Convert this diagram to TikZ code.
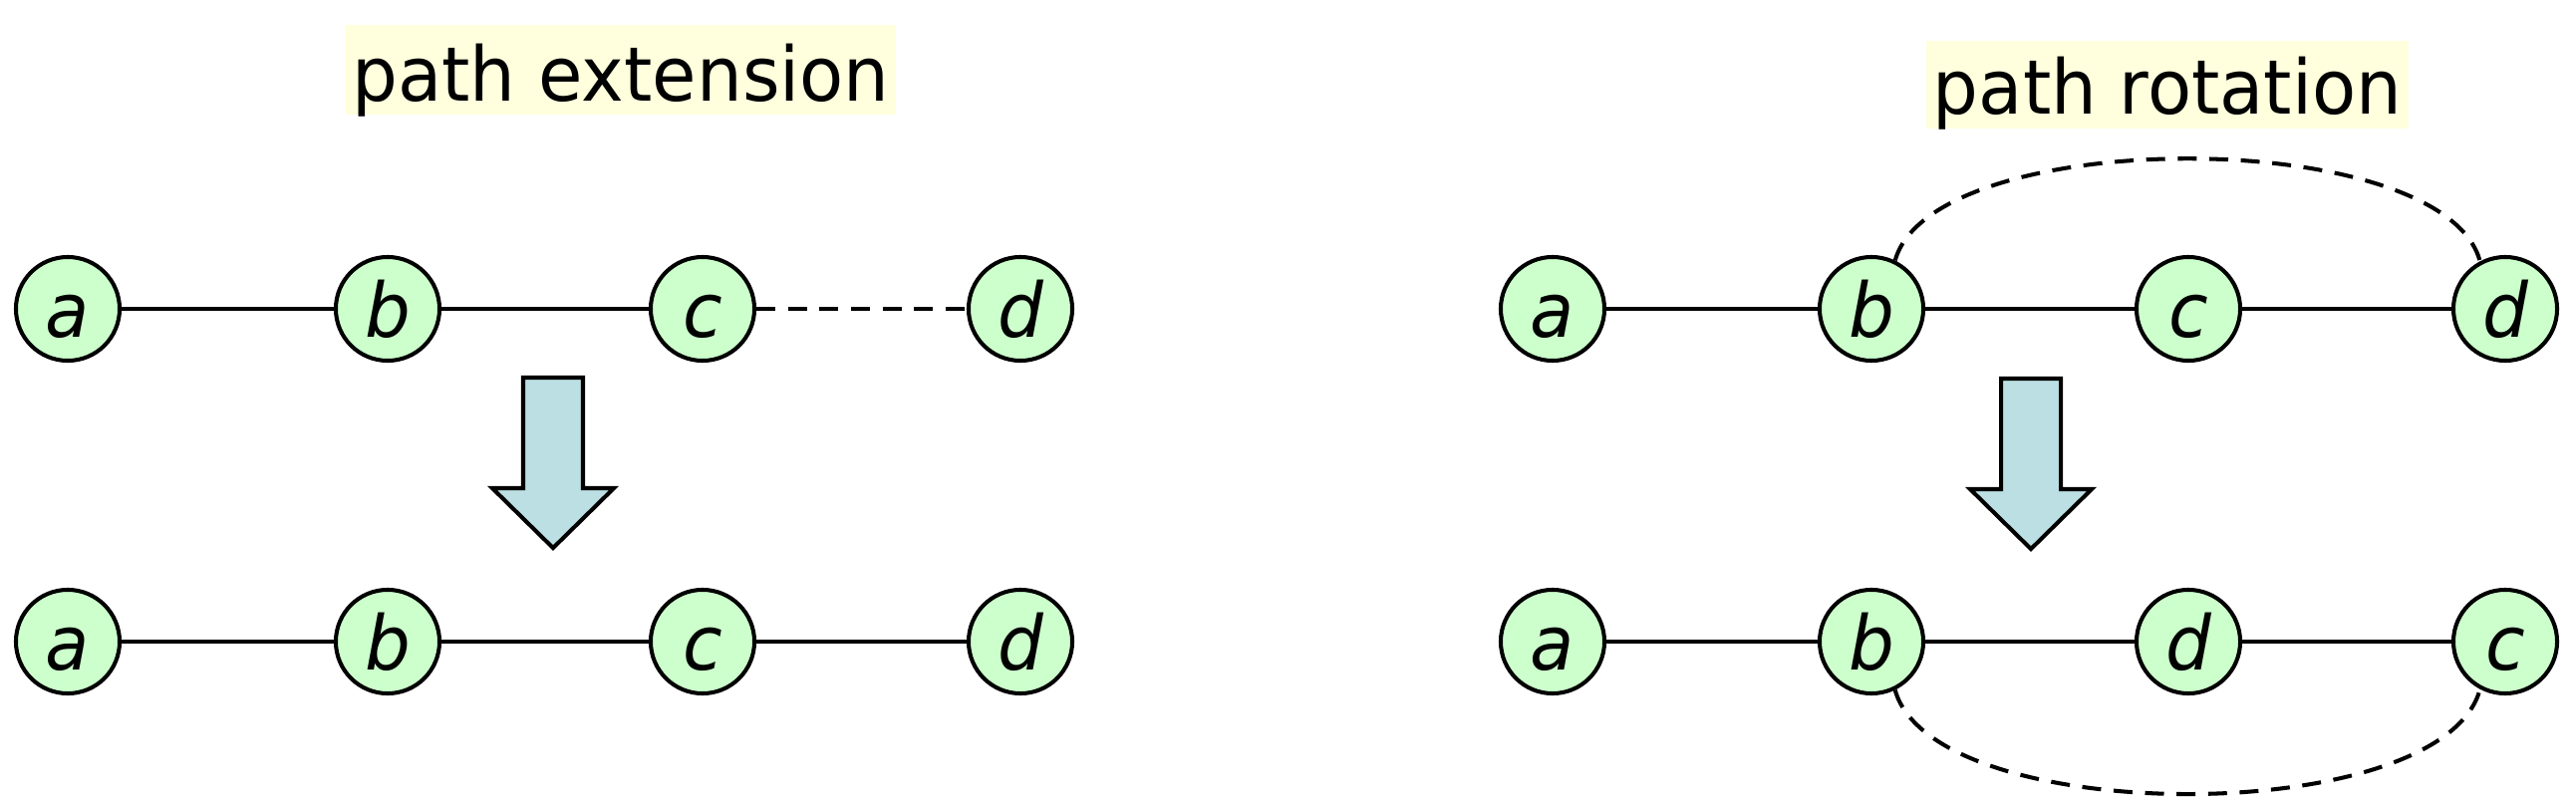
\documentclass[tikz,border=0pt]{standalone}
\usepackage{fontspec}
\setmainfont[FakeStretch=0.955]{DejaVu Sans}
\definecolor{nodegreen}{RGB}{204,255,204}
\definecolor{arrowblue}{RGB}{187,223,227}
\definecolor{titleyellow}{RGB}{255,255,222}
\tikzset{
  vtx/.style={circle, draw, line width=1.15pt, fill=nodegreen, minimum size=1.04cm,
    inner sep=0pt, text height=0.57cm, text depth=0pt,
    font=\fontsize{21.5}{24}\selectfont\itshape},
  edge/.style={line width=1.15pt},
  dashedge/.style={edge, dash pattern=on 5.4pt off 3.6pt},
  titlebox/.style={fill=titleyellow, inner sep=0pt, text depth=0pt,
    font=\fontsize{21.5}{24}\selectfont},
  bigarrow/.style={draw, line width=1.15pt, fill=arrowblue, line join=miter}
}
\begin{document}
\begin{tikzpicture}[x=0.01cm, y=-0.01cm]
\useasboundingbox (0,0) rectangle (2585,806);

% titles
\node[titlebox, minimum width=5.52cm, minimum height=0.90cm, text height=0.62cm] (t1) at (623,70) {path extension};
\node[titlebox, minimum width=4.84cm, minimum height=0.88cm, text height=0.58cm] (t2) at (2175,85) {path rotation};

% left, top row
\node[vtx] (la1) at (68,310) {a};
\node[vtx] (lb1) at (389,310) {b};
\node[vtx] (lc1) at (705,310) {c};
\node[vtx] (ld1) at (1024,310) {d};
\draw[edge] (la1) -- (lb1);
\draw[edge] (lb1) -- (lc1);
\draw[dashedge] (lc1) -- (ld1);

% left, bottom row
\node[vtx] (la2) at (68,644) {a};
\node[vtx] (lb2) at (389,644) {b};
\node[vtx] (lc2) at (705,644) {c};
\node[vtx] (ld2) at (1024,644) {d};
\draw[edge] (la2) -- (lb2);
\draw[edge] (lb2) -- (lc2);
\draw[edge] (lc2) -- (ld2);

% right, top row
\node[vtx] (ra1) at (1558,310) {a};
\node[vtx] (rb1) at (1878,310) {b};
\node[vtx] (rc1) at (2196,310) {c};
\node[vtx] (rd1) at (2514,310) {d};
\draw[edge] (ra1) -- (rb1);
\draw[edge] (rb1) -- (rc1);
\draw[edge] (rc1) -- (rd1);
\draw[dashedge] (rb1.64) .. controls (1940,125) and (2452,125) .. (rd1.118);

% right, bottom row
\node[vtx] (ra2) at (1558,644) {a};
\node[vtx] (rb2) at (1878,644) {b};
\node[vtx] (rd2) at (2196,644) {d};
\node[vtx] (rc2) at (2514,644) {c};
\draw[edge] (ra2) -- (rb2);
\draw[edge] (rb2) -- (rd2);
\draw[edge] (rd2) -- (rc2);
\draw[dashedge] (rb2.-64) .. controls (1940,832) and (2452,832) .. (rc2.-118);

% big arrows
\coordinate (al) at (555,379);
\coordinate (ar) at (2038,380);
\draw[bigarrow] (al) ++(-30,0) -- ++(60,0) -- ++(0,111) -- ++(31,0) -- ++(-61,60) -- ++(-61,-60) -- ++(31,0) -- cycle;
\draw[bigarrow] (ar) ++(-30,0) -- ++(60,0) -- ++(0,111) -- ++(31,0) -- ++(-61,60) -- ++(-61,-60) -- ++(31,0) -- cycle;
\end{tikzpicture}
\end{document}
